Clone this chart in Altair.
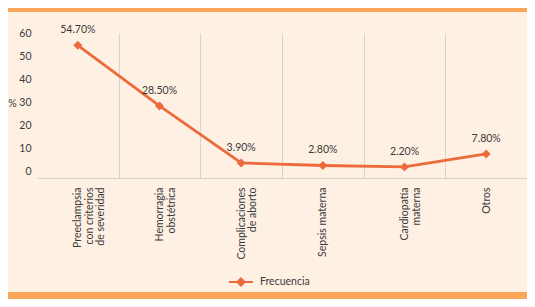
import altair as alt
import pandas as pd

# ---- data ----
categories = [
    "Preeclampsia|con criterios|de severidad",
    "Hemorragia|obstétrica",
    "Complicaciones|de aborto",
    "Sepsis materna",
    "Cardiopatía|materna",
    "Otros",
]
values = [54.7, 28.5, 3.9, 2.8, 2.2, 7.8]
value_labels = ["54.70%", "28.50%", "3.90%", "2.80%", "2.20%", "7.80%"]
series_name = "Frecuencia"
y_ticks = [0, 10, 20, 30, 40, 50, 60]

df = pd.DataFrame({"cat": categories, "val": values, "lbl": value_labels,
                   "serie": [series_name] * len(categories)})
deco = pd.DataFrame({"k": [0]})

# ---- style ----
BG = "#FEF1E4"
BAR = "#FBA65A"
LINE = "#EC6A3B"
TEXT = "#3a3a3a"
GRID = "#DAD3CC"
FONT = "Lato"
FS = 10.5

x = alt.X(
    "cat:N", sort=categories,
    scale=alt.Scale(paddingInner=0, paddingOuter=0),
    axis=alt.Axis(
        title=None, labelAngle=-90, labelAlign="right", labelBaseline="middle",
        labelExpr="split(datum.label, '|')", labelPadding=9, labelLineHeight=11.5,
        labelFontSize=FS, labelColor=TEXT, labelFont=FONT, labelLimit=0,
        ticks=False, grid=True, gridColor=GRID, tickBand="extent",
        gridOpacity={"condition": {"test": "datum.index < 0", "value": 0}, "value": 1},
        domainColor=GRID,
    ),
)
y = alt.Y(
    "val:Q",
    scale=alt.Scale(domain=[-2.6, 60], nice=False, zero=False),
    axis=alt.Axis(
        values=y_ticks, title="%", titleAngle=0, titleX=-25, titleY=70,
        titleAlign="center", titleBaseline="middle", titleFontWeight="normal",
        titleFontSize=FS, titleFont=FONT, titleColor=TEXT,
        grid=False, domain=False, ticks=False, labelPadding=6,
        labelFontSize=FS, labelFont=FONT, labelColor=TEXT,
    ),
)
color = alt.Color(
    "serie:N", scale=alt.Scale(range=[LINE]),
    legend=alt.Legend(
        title=None, orient="none", legendX=191, legendY=236,
        symbolType="M-1,0H1M0,-0.3L0.3,0L0,0.3L-0.3,0Z", symbolSize=576,
        symbolStrokeWidth=2, symbolFillColor=LINE, symbolStrokeColor=LINE,
        labelFontSize=FS, labelColor=TEXT, labelFont=FONT, labelOffset=6,
        padding=0,
    ),
)

top_bar = alt.Chart(deco).mark_rect(color=BAR).encode(
    x=alt.value(-29), x2=alt.value(490), y=alt.value(-25), y2=alt.value(-21))
bottom_bar = alt.Chart(deco).mark_rect(color=BAR).encode(
    x=alt.value(-29), x2=alt.value(490), y=alt.value(259), y2=alt.value(266))

line = alt.Chart(df).mark_line(
    strokeWidth=2.8,
    point=alt.OverlayMarkDef(shape="diamond", size=80, filled=True, fill=LINE),
).encode(x=x, y=y, color=color)

labels = alt.Chart(df).mark_text(dy=-15, fontSize=FS, color=TEXT, font=FONT).encode(
    x=x, y=y, text="lbl:N")

chart = alt.layer(top_bar, bottom_bar, line, labels).properties(
    width=490, height=145,
    padding={"left": 29, "top": 25, "right": 0, "bottom": 121},
    autosize=alt.AutoSizeParams(type="none"),
    background=BG,
).configure_view(stroke=None)

chart.save("out.html", embed_options={"renderer": "svg", "actions": False})
